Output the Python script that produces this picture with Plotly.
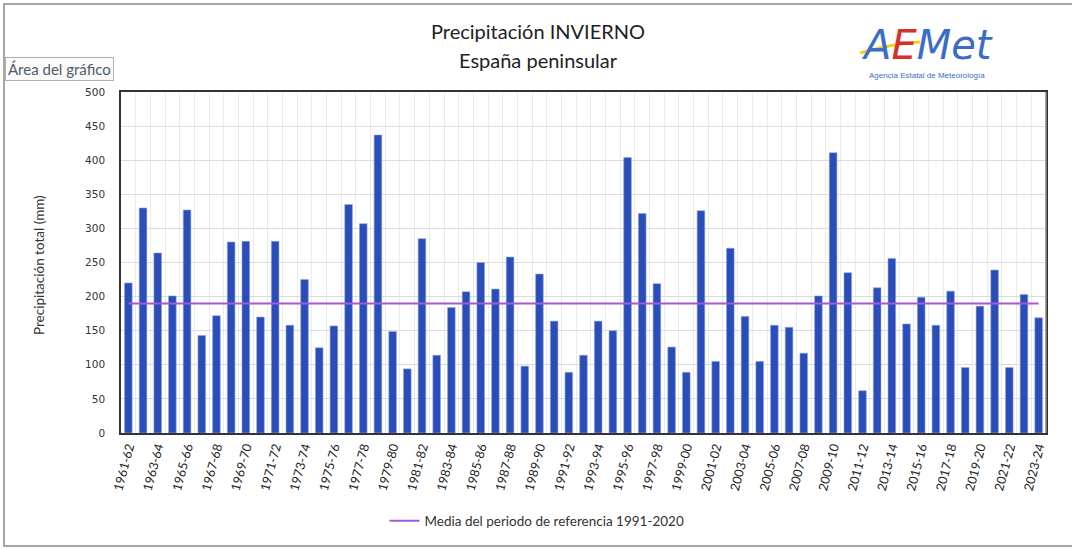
import plotly.graph_objects as go

seasons = [
    "1961-62", "1962-63", "1963-64", "1964-65", "1965-66", "1966-67", "1967-68", "1968-69",
    "1969-70", "1970-71", "1971-72", "1972-73", "1973-74", "1974-75", "1975-76", "1976-77",
    "1977-78", "1978-79", "1979-80", "1980-81", "1981-82", "1982-83", "1983-84", "1984-85",
    "1985-86", "1986-87", "1987-88", "1988-89", "1989-90", "1990-91", "1991-92", "1992-93",
    "1993-94", "1994-95", "1995-96", "1996-97", "1997-98", "1998-99", "1999-00", "2000-01",
    "2001-02", "2002-03", "2003-04", "2004-05", "2005-06", "2006-07", "2007-08", "2008-09",
    "2009-10", "2010-11", "2011-12", "2012-13", "2013-14", "2014-15", "2015-16", "2016-17",
    "2017-18", "2018-19", "2019-20", "2020-21", "2021-22", "2022-23", "2023-24",
]

precip = [
    220, 330, 264, 201, 327, 143, 172, 280,
    281, 170, 281, 158, 225, 125, 157, 335,
    307, 437, 149, 94, 285, 114, 184, 207,
    250, 211, 258, 98, 233, 164, 89, 114,
    164, 150, 404, 322, 219, 126, 89, 326,
    105, 271, 171, 105, 158, 155, 117, 201,
    411, 235, 62, 213, 256, 160, 199, 158,
    208, 96, 186, 239, 96, 203, 169,
]

reference_mean = 190

y_ticks = [0, 50, 100, 150, 200, 250, 300, 350, 400, 450, 500]

idx = list(range(len(seasons)))
label_idx = idx[::2]
label_txt = seasons[::2]

fig = go.Figure()
fig.add_trace(go.Bar(
    x=idx, y=precip, width=0.52,
    marker=dict(color="#2B4DB9", line=dict(color="#8FA4E2", width=0.6)),
    showlegend=False, hoverinfo="y",
))
fig.add_trace(go.Scatter(
    x=idx, y=[reference_mean] * len(idx), mode="lines",
    line=dict(color="#A25BD8", width=2),
    name="Media del periodo de referencia 1991-2020",
))

W, H = 1072, 549
L, R, T, B = 121, 26, 92, 116
pw, ph = W - L - R, H - T - B

def px(x):
    return (x - L) / pw

def py(y):
    return (H - B - y) / ph

def ann(text, x, y, size, color="#222222", family="Lato", **kw):
    d = dict(text=text, xref="paper", yref="paper", x=px(x), y=py(y),
             xanchor="center", yanchor="middle", showarrow=False,
             font=dict(family=family, size=size, color=color))
    d.update(kw)
    return d

frame_path = (f"M {px(1072)},{py(4)} L {px(4)},{py(4)} L {px(4)},{py(546)} "
              f"L {px(1072)},{py(546)}")

fig.update_layout(
    width=W, height=H,
    margin=dict(l=L, r=R, t=T, b=B),
    paper_bgcolor="white", plot_bgcolor="white",
    font=dict(family="Lato", color="#333333"),
    legend=dict(orientation="h", x=px(537), xanchor="center", y=py(521), yanchor="middle",
                font=dict(family="Lato", size=13.5, color="#333333")),
    xaxis=dict(
        range=[-0.5, len(idx) - 0.5],
        tickmode="array", tickvals=label_idx, ticktext=label_txt,
        tickangle=-75, tickfont=dict(family="Lato", size=12.5, color="#222222"),
        showgrid=False, zeroline=False,
        showline=True, linecolor="#333333", linewidth=1.5, mirror=True,
        ticks="", automargin=False,
        minor=dict(tick0=0.5, dtick=1, showgrid=True, gridcolor="#ebebeb", gridwidth=1),
    ),
    yaxis=dict(
        range=[0, 500], tickmode="array", tickvals=y_ticks,
        tickfont=dict(family="DejaVu Sans", size=10.5, color="#333333"),
        showgrid=True, gridcolor="#dcdcdc", gridwidth=1,
        zeroline=False, showline=True, linecolor="#333333", linewidth=1.5, mirror=True,
        ticks="", ticklabelstandoff=12, automargin=False,
    ),
    shapes=[
        dict(type="path", xref="paper", yref="paper", path=frame_path,
             line=dict(color="#8a8a8a", width=1.5), layer="below"),
        dict(type="line", xref="paper", yref="paper",
             x0=px(1046), x1=px(1046), y0=0, y1=1,
             line=dict(color="#8a8a8a", width=1.5)),
        dict(type="path", xref="paper", yref="paper",
             path=(f"M {px(860)},{py(53)} Q {px(890)},{py(44)} {px(920)},{py(42)}"),
             line=dict(color="#F2D21B", width=3), layer="below"),
    ],
    annotations=[
        ann("Precipitación INVIERNO", 538, 31, 20),
        ann("España peninsular", 538, 60, 20),
        ann("Precipitación total (mm)", 39, 265, 13.5, color="#333333", textangle=-90),
        ann("Área del gráfico", 59, 69, 15, color="#4d5b6b",
            bordercolor="#b0b0b0", borderwidth=1, bgcolor="#fbfbfb", borderpad=2),
        ann("<i><span style='color:#3B6DC6'>A</span><span style='color:#D5302B'>E</span>"
            "<span style='color:#3B6DC6'>Met</span></i>", 927, 45, 40, family="DejaVu Sans"),
        ann("Agencia Estatal de Meteorología", 927, 75, 8, color="#3B6DC6",
            family="Liberation Sans"),
    ],
)

fig.write_html("out.html", config={"displayModeBar": False},
               post_script="document.body.style.margin='0';document.body.style.overflow='hidden';")
